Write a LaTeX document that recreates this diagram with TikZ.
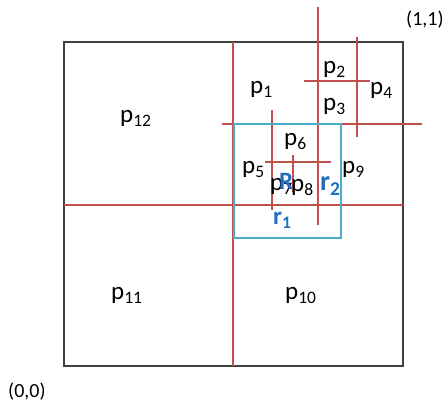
\documentclass[tikz,border=0pt]{standalone}
\usepackage{fontspec}
\setmainfont{Carlito}
\definecolor{cutred}{RGB}{192,80,77}
\definecolor{rangecyan}{RGB}{75,172,198}
\definecolor{rangeblue}{RGB}{35,110,190}

\begin{document}
\begin{tikzpicture}[x=1pt, y=-1pt, every node/.style={font=\fontsize{25}{25}\selectfont, inner sep=0pt, anchor=base west}]
	\useasboundingbox (0,0) rectangle (448,406);
	\draw[black!75, line width=1.5pt] (64,42) rectangle (403,366);
	% split lines of the tree
	\foreach \xa/\ya/\xb/\yb in {64/205/403/205, 233/42/233/366, 222/124/422/124, 318/7/318/225, 304/81/370/81, 357/37/357/137, 272/110/272/210, 265/162/331/162, 293/155/293/192} {
		\draw[cutred, line width=2.7pt] (\xa,\ya) -- (\xb,\yb);
	}
	% query range
	\draw[rangecyan, line width=2.3pt] (234,124) rectangle (341,238);
	\foreach \n/\x/\y in {12/120/123, 1/250/94, 2/323/74, 3/323/111, 4/370/95, 6/284/146, 5/242/174, 9/342/174, 7/270/191, 8/291/192, 11/111/300, 10/285/300} {
		\node (p\n) at (\x,\y) {p\textsubscript{\n}};
	}
	\node[rangeblue, font=\fontsize{25}{25}\selectfont\bfseries] (R) at (279,190) {R};
	\node[rangeblue, font=\fontsize{28}{28}\selectfont\bfseries] (r2) at (320,191) {r\textsubscript{2}};
	\node[rangeblue, font=\fontsize{25}{25}\selectfont\bfseries] (r1) at (273,225) {r\textsubscript{1}};
	\node[font=\fontsize{20}{20}\selectfont] (one) at (406,26) {(1,1)};
	\node[font=\fontsize{20}{20}\selectfont] (zero) at (8,398) {(0,0)};
\end{tikzpicture}
\end{document}
